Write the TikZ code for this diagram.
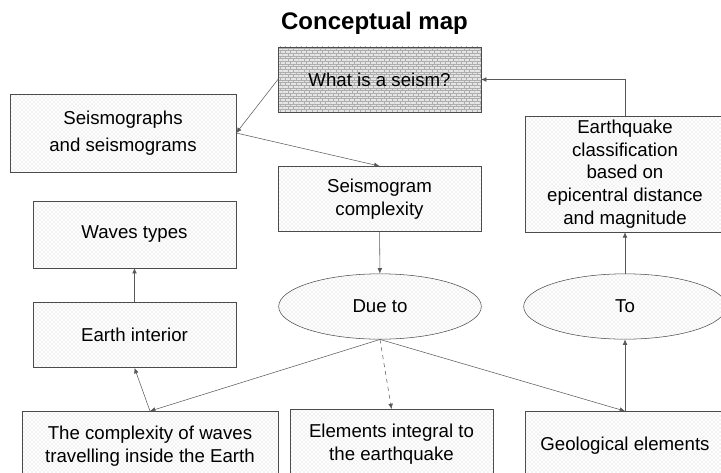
\documentclass[tikz,border=0pt]{standalone}
\usepackage{fontspec}
\setmainfont{Liberation Sans}
\usepackage{tikz}
\usetikzlibrary{shapes,arrows,arrows.meta,positioning,calc,patterns}
\usepackage{xcolor}

% small bricks for the top box
\pgfdeclarepatternformonly{finebricks}{\pgfqpoint{-0.1pt}{-0.1pt}}{\pgfqpoint{4.1pt}{4.1pt}}{\pgfqpoint{4pt}{4pt}}{
  \pgfsetlinewidth{0.3pt}
  \pgfpathmoveto{\pgfqpoint{0pt}{0pt}}\pgfpathlineto{\pgfqpoint{4pt}{0pt}}
  \pgfpathmoveto{\pgfqpoint{0pt}{2pt}}\pgfpathlineto{\pgfqpoint{4pt}{2pt}}
  \pgfpathmoveto{\pgfqpoint{0pt}{0pt}}\pgfpathlineto{\pgfqpoint{0pt}{2pt}}
  \pgfpathmoveto{\pgfqpoint{2pt}{2pt}}\pgfpathlineto{\pgfqpoint{2pt}{4pt}}
  \pgfusepath{stroke}
}

\begin{document}
\begin{tikzpicture}[
  x=0.75pt, y=-0.75pt,
  box/.style={rectangle, draw=black!70, pattern=crosshatch dots, pattern color=black!22,
    minimum width=152pt, minimum height=49pt, align=center, font=\fontsize{14}{17}\selectfont, inner sep=2pt},
  oval/.style={ellipse, draw=black!70, pattern=crosshatch dots, pattern color=black!22,
    minimum width=152pt, minimum height=49pt, font=\fontsize{14}{17}\selectfont},
  arr/.style={-{Latex[length=4pt,width=3.5pt]}, draw=black!65, thin}
]
\clip (0,0) rectangle (721,472);
\node[font=\bfseries\fontsize{18}{20}\selectfont] (title) at (374.5,23) {Conceptual map};

\node[box, preaction={fill=black!10}, pattern=finebricks, pattern color=black!32] (seism) at (379.5,79.5) {What is a seism?};
\node[box, minimum width=169.5pt, minimum height=58.5pt, font=\fontsize{14}{20}\selectfont] (graphs) at (123,133) {Seismographs\\and seismograms};
\node[box] (cplx) at (379.5,199) {Seismogram\\complexity};
\node[box, minimum width=149pt, minimum height=87pt] (class) at (625,174) {Earthquake\\classification\\based on\\epicentral distance\\and magnitude};
\node[box, minimum height=50pt] (waves) at (134.5,234.5) {Waves types};
\node[box] (interior) at (134.5,335) {Earth interior};
\node[oval] (dueto) at (380,306.5) {Due to};
\node[oval] (to) at (625,306.5) {To};
\node[box, minimum width=192pt, minimum height=52pt] (travel) at (150,446) {The complexity of waves\\travelling inside the Earth};
\node[box, minimum height=52pt] (integral) at (391.5,444) {Elements integral to\\the earthquake};
\node[box, minimum width=150pt, minimum height=52pt] (geo) at (625,446) {Geological elements};

\draw[arr] (seism.west) -- (graphs.east);
\draw[arr] (graphs.east) -- (cplx.north);
\draw[arr] (class.north) |- (seism.east);
\draw[arr] (cplx) -- (dueto);
\draw[arr] (dueto.south) -- (travel.north);
\draw[arr, dashed] (dueto.south) -- (integral.north);
\draw[arr] (dueto.south) -- (geo.north);
\draw[arr] (geo) -- (to);
\draw[arr] (to) -- (class);
\draw[arr] (travel.north) -- (interior.south);
\draw[arr] (interior) -- (waves);
\end{tikzpicture}
\end{document}
